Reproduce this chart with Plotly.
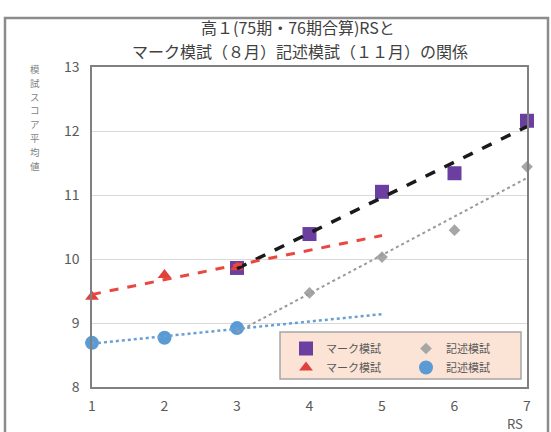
import numpy as np
import plotly.graph_objects as go

# RS groups and mean scores
rs_high = [3, 4, 5, 6, 7]
mark_high = [9.86, 10.39, 11.05, 11.34, 12.16]     # マーク模試 (RS 3-7)
kijutsu_high = [8.92, 9.47, 10.03, 10.45, 11.44]   # 記述模試 (RS 3-7)

rs_low = [1, 2, 3]
mark_low = [9.41, 9.75, 9.87]                      # マーク模試 (RS 1-3)
kijutsu_low = [8.69, 8.77, 8.92]                   # 記述模試 (RS 1-3)

x_ticks = [1, 2, 3, 4, 5, 6, 7]
y_ticks = [8, 9, 10, 11, 12, 13]

title_line1 = "高１(75期・76期合算)RSと"
title_line2 = "マーク模試（８月）記述模試（１１月）の関係"
y_title = "模試スコア平均値"
x_title = "RS"

FONT = "Noto Sans CJK JP"


def trend(xs, ys, x_end):
    """Least-squares linear trend from the first x to x_end."""
    k, b = np.polyfit(xs, ys, 1)
    xx = np.array([xs[0], x_end], dtype=float)
    return xx, k * xx + b


fig = go.Figure()

# markers
fig.add_trace(go.Scatter(x=rs_high, y=mark_high, mode="markers", name="マーク模試",
                         marker=dict(symbol="square", size=14, color="#6b3fa0"),
                         legend="legend", cliponaxis=False))
fig.add_trace(go.Scatter(x=rs_low, y=mark_low, mode="markers", name="マーク模試",
                         marker=dict(symbol="triangle-up", size=12, color="#e0413a"),
                         legend="legend", cliponaxis=False))
fig.add_trace(go.Scatter(x=rs_high, y=kijutsu_high, mode="markers", name="記述模試",
                         marker=dict(symbol="diamond", size=9, color="#a6a6a6"),
                         legend="legend2", cliponaxis=False))
fig.add_trace(go.Scatter(x=rs_low, y=kijutsu_low, mode="markers", name="記述模試",
                         marker=dict(symbol="circle", size=14, color="#5b9bd5"),
                         legend="legend2", cliponaxis=False))

# linear trend lines
tx, ty = trend(rs_high, mark_high, 7)
fig.add_trace(go.Scatter(x=tx, y=ty, mode="lines", showlegend=False, hoverinfo="skip",
                         line=dict(color="#1a1a1a", width=3.5, dash="dash")))
tx, ty = trend(rs_high, kijutsu_high, 7)
fig.add_trace(go.Scatter(x=tx, y=ty, mode="lines", showlegend=False, hoverinfo="skip",
                         line=dict(color="#9a9a9a", width=2, dash="dot")))
tx, ty = trend(rs_low, mark_low, 5)
fig.add_trace(go.Scatter(x=tx, y=ty, mode="lines", showlegend=False, hoverinfo="skip",
                         line=dict(color="#e8483f", width=3, dash="dash")))
tx, ty = trend(rs_low, kijutsu_low, 5)
fig.add_trace(go.Scatter(x=tx, y=ty, mode="lines", showlegend=False, hoverinfo="skip",
                         line=dict(color="#6a9fd4", width=2.5, dash="dot")))

L, R, T, B = 92, 24, 67, 45
W, H = 551, 432
pw, ph = W - L - R, H - T - B


def px(x):
    return (x - L) / pw


def py(y):
    return (H - B - y) / ph


shapes = [
    # outer chart frame
    dict(type="rect", xref="paper", yref="paper",
         x0=px(5), x1=px(548), y0=py(440), y1=py(18),
         line=dict(color="#8c8c8c", width=2.5), fillcolor="rgba(0,0,0,0)", layer="below"),
    # legend box
    dict(type="rect", xref="paper", yref="paper",
         x0=px(280), x1=px(521), y0=py(379), y1=py(332),
         line=dict(color="#a6a6a6", width=1.5), fillcolor="#fbe3d6", layer="above"),
]


def label(text, x, y, size, color, **kw):
    return dict(text=text, x=px(x), y=py(y), xref="paper", yref="paper",
                xanchor="center", yanchor="middle", showarrow=False,
                font=dict(family=FONT, size=size, color=color), **kw)


annotations = [
    label(title_line1, 298, 27.5, 16, "#404040"),
    label(title_line2, 300, 50.5, 16, "#404040"),
    label(x_title, 515, 423, 13, "#595959"),
]
# vertical axis title, one upright character per line
for i, ch in enumerate(y_title):
    annotations.append(label(ch, 35, 69 + i * 13.8, 9.5, "#7f7f7f"))

fig.update_layout(
    width=W, height=H,
    margin=dict(l=L, r=R, t=T, b=B),
    paper_bgcolor="white", plot_bgcolor="white",
    font=dict(family=FONT, color="#595959"),
    shapes=shapes, annotations=annotations,
    legend=dict(x=px(286), y=py(334), xanchor="left", yanchor="top",
                bgcolor="rgba(0,0,0,0)", font=dict(size=11, color="#595959"),
                tracegroupgap=0, itemwidth=30),
    legend2=dict(x=px(406), y=py(334), xanchor="left", yanchor="top",
                 bgcolor="rgba(0,0,0,0)", font=dict(size=11, color="#595959"),
                 tracegroupgap=0, itemwidth=30),
    xaxis=dict(range=[1, 7], tickvals=x_ticks, showgrid=False, zeroline=False,
               showline=True, mirror=True, linecolor="#808080", linewidth=1.5,
               ticks="", ticklabelstandoff=5, tickfont=dict(size=14, color="#595959")),
    yaxis=dict(range=[8, 13], tickvals=y_ticks, showgrid=True, gridcolor="#d9d9d9",
               zeroline=False, showline=True, mirror=True, linecolor="#808080",
               linewidth=1.5, ticks="", ticklabelstandoff=8,
               tickfont=dict(size=14, color="#595959")),
)

fig.write_html("out.html")
